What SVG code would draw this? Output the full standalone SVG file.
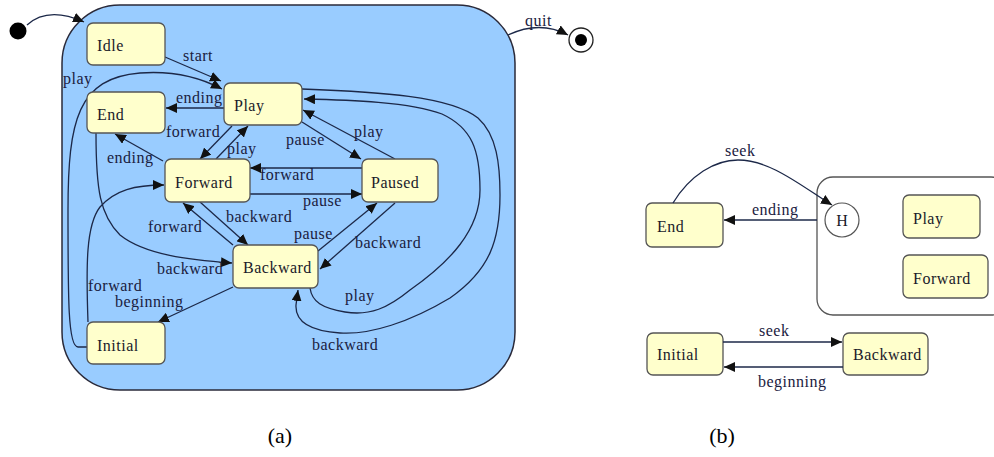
<svg xmlns="http://www.w3.org/2000/svg" width="994" height="457" viewBox="0 0 994 457" font-family="Liberation Serif, DejaVu Serif, Times New Roman, serif">
<defs>
<marker id="ah" markerUnits="userSpaceOnUse" markerWidth="12" markerHeight="10" refX="11" refY="5" orient="auto">
<path d="M0,0 L11,5 L0,10 z" fill="#111"/>
</marker>
<style>
.node rect{fill:#FFFFCC;stroke:#555;stroke-width:1.3}
.t{font-size:16px;letter-spacing:0.5px;fill:#1a1a2a}
.lbl{font-size:16px;letter-spacing:0.5px;fill:#1a2040}
.e path,.e line{fill:none;stroke:#1c2848;stroke-width:1.3;marker-end:url(#ah)}
.cap{font-size:22px;fill:#000}
</style>
</defs>
<rect width="994" height="457" fill="#fff"/>

<g id="composite-a">
<rect x="62" y="5" width="453" height="385" rx="58" ry="58" fill="#99CCFF" stroke="#2a2a3a" stroke-width="1.5"/>
</g>
<g id="initial-pseudo"><circle cx="18" cy="31" r="8.5" fill="#000"/></g>
<g id="final-state"><circle cx="581" cy="40" r="12" fill="#fff" stroke="#222" stroke-width="1.3"/><circle cx="581" cy="40" r="6" fill="#000"/></g>

<g id="connectors-a" class="e">
<path d="M27,25 Q48,6 84,22"/>
<path d="M508,35 Q540,20 568,35"/>
<line x1="165" y1="57" x2="221" y2="81"/>
<path d="M87,347 L78,347 C68,347 68,300 68,210 C68,120 78,78 140,73 C180,70 205,80 222,89"/>
<line x1="224" y1="108" x2="166" y2="108"/>
<line x1="232" y1="126" x2="200" y2="159"/>
<line x1="216" y1="159" x2="248" y2="126"/>
<line x1="163" y1="161" x2="115" y2="134"/>
<line x1="302" y1="122" x2="361" y2="159"/>
<line x1="395" y1="159" x2="303" y2="110"/>
<line x1="362" y1="168" x2="250" y2="168"/>
<line x1="250" y1="194" x2="362" y2="194"/>
<line x1="200" y1="202" x2="248" y2="245"/>
<line x1="233" y1="245" x2="183" y2="203"/>
<path d="M96,133 C96,190 100,215 120,235 C145,255 190,260 232,263"/>
<path d="M88,322 C86,265 86,225 100,207 C115,190 135,185 164,185"/>
<line x1="233" y1="287" x2="158" y2="322"/>
<line x1="318" y1="251" x2="377" y2="203"/>
<line x1="395" y1="203" x2="320" y2="269"/>
<path d="M302,89 C380,92 450,96 478,118 C497,135 500,165 500,195 C500,240 490,270 450,298 C410,322 370,335 340,333 C310,331 295,322 296,305 L298,290"/>
<path d="M310,288 C312,302 322,308 345,312 C370,316 388,308 410,290 C450,262 480,230 480,190 C480,150 472,128 442,114 C410,102 350,100 304,99"/>
</g>

<g id="labels-a">
<text class="lbl" x="525" y="26">quit</text>
<text class="lbl" x="183" y="61">start</text>
<text class="lbl" x="63" y="84">play</text>
<text class="lbl" x="176" y="103">ending</text>
<text class="lbl" x="166" y="137">forward</text>
<text class="lbl" x="227" y="154">play</text>
<text class="lbl" x="107" y="163">ending</text>
<text class="lbl" x="286" y="145">pause</text>
<text class="lbl" x="354" y="137">play</text>
<text class="lbl" x="260" y="180">forward</text>
<text class="lbl" x="303" y="206">pause</text>
<text class="lbl" x="226" y="222">backward</text>
<text class="lbl" x="148" y="232">forward</text>
<text class="lbl" x="294" y="239">pause</text>
<text class="lbl" x="355" y="248">backward</text>
<text class="lbl" x="157" y="274">backward</text>
<text class="lbl" x="88" y="291">forward</text>
<text class="lbl" x="115" y="307">beginning</text>
<text class="lbl" x="345" y="301">play</text>
<text class="lbl" x="312" y="350">backward</text>
</g>

<g id="idle" class="node"><rect x="87" y="23" width="78" height="42" rx="6"/><text class="t" x="97" y="51">Idle</text></g>
<g id="play" class="node"><rect x="224" y="83" width="78" height="42" rx="6"/><text class="t" x="234" y="111">Play</text></g>
<g id="end" class="node"><rect x="87" y="92" width="78" height="41" rx="6"/><text class="t" x="97" y="120">End</text></g>
<g id="forward" class="node"><rect x="165" y="159" width="85" height="43" rx="6"/><text class="t" x="175" y="188">Forward</text></g>
<g id="paused" class="node"><rect x="362" y="159" width="76" height="43" rx="6"/><text class="t" x="371" y="188">Paused</text></g>
<g id="backward" class="node"><rect x="233" y="245" width="85" height="43" rx="6"/><text class="t" x="243" y="273">Backward</text></g>
<g id="initial" class="node"><rect x="87" y="322" width="78" height="42" rx="6"/><text class="t" x="97" y="351">Initial</text></g>

<g id="composite-b"><rect x="817" y="177" width="190" height="138" rx="16" fill="#fff" stroke="#555" stroke-width="1.3"/></g>
<g id="history"><circle cx="842" cy="220" r="17" fill="#fff" stroke="#555" stroke-width="1.2"/><text class="t" x="842" y="226" text-anchor="middle" style="letter-spacing:0">H</text></g>
<g id="end-b" class="node"><rect x="646" y="203" width="77" height="44" rx="6"/><text class="t" x="657" y="232">End</text></g>
<g id="play-b" class="node"><rect x="903" y="195" width="77" height="43" rx="6"/><text class="t" x="913" y="224">Play</text></g>
<g id="forward-b" class="node"><rect x="903" y="255" width="85" height="43" rx="6"/><text class="t" x="913" y="284">Forward</text></g>
<g id="initial-b" class="node"><rect x="647" y="333" width="76" height="42" rx="6"/><text class="t" x="657" y="360">Initial</text></g>
<g id="backward-b" class="node"><rect x="843" y="333" width="85" height="42" rx="6"/><text class="t" x="853" y="360">Backward</text></g>

<g id="connectors-b" class="e">
<path d="M673,203 C690,175 715,160 738,160 C770,160 800,185 832,205"/>
<line x1="817" y1="220" x2="724" y2="220"/>
<line x1="723" y1="342" x2="842" y2="342"/>
<line x1="843" y1="367" x2="724" y2="367"/>
</g>
<g id="labels-b">
<text class="lbl" x="725" y="156">seek</text>
<text class="lbl" x="752" y="215">ending</text>
<text class="lbl" x="759" y="336">seek</text>
<text class="lbl" x="758" y="387">beginning</text>
</g>

<text class="cap" x="280" y="443" text-anchor="middle">(a)</text>
<text class="cap" x="722" y="443" text-anchor="middle">(b)</text>
</svg>
